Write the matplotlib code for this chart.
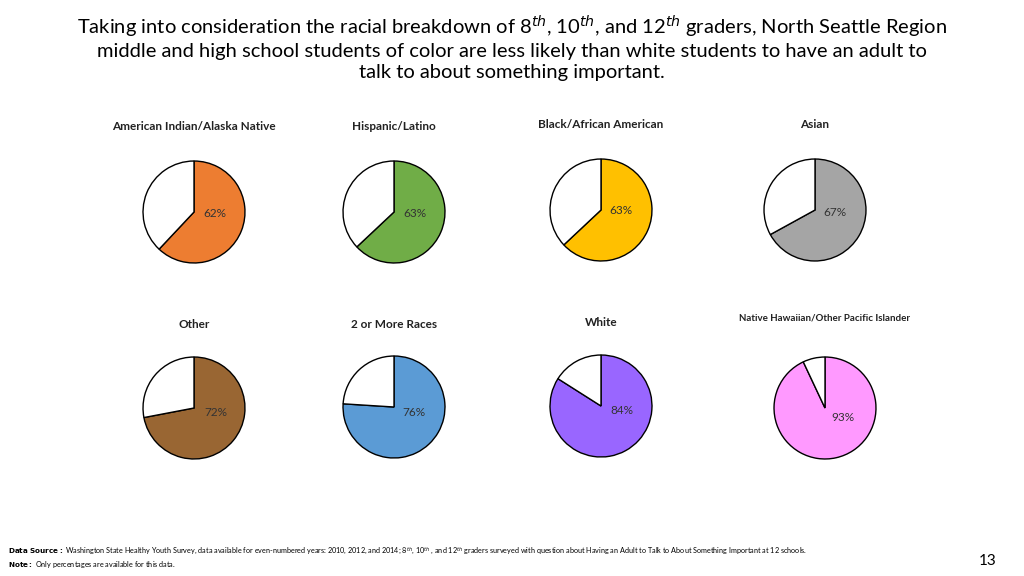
import matplotlib
matplotlib.use("Agg")
import matplotlib.pyplot as plt

groups = ["American Indian/Alaska Native", "Hispanic/Latino", "Black/African American", "Asian",
          "Other", "2 or More Races", "White", "Native Hawaiian/Other Pacific Islander"]
values = [62, 63, 63, 67, 72, 76, 84, 93]
colors = ["#ED7D31", "#70AD47", "#FFC000", "#A5A5A5", "#996633", "#5B9BD5", "#9966FF", "#FF99FF"]

centers = [(194, 212), (394, 212), (601, 210), (815, 210),
           (194, 408), (394, 407), (601, 406), (825, 408)]
title_y = [127, 127, 125, 125, 325, 324, 323, 318]
label_off = [(0.4, -0.02), (0.42, -0.02), (0.4, 0), (0.4, -0.04),
             (0.42, -0.08), (0.4, -0.1), (0.4, -0.08), (0.35, -0.19)]

W, H = 1024, 576
plt.rcParams["font.family"] = "Lato"
fig = plt.figure(figsize=(W / 100, H / 100), dpi=100)
r = 52
for i, (g, v, c) in enumerate(zip(groups, values, colors)):
    cx, cy = centers[i]
    ax = fig.add_axes([(cx - r) / W, 1 - (cy + r) / H, 2 * r / W, 2 * r / H])
    ax.pie([v, 100 - v], colors=[c, "white"], startangle=90, counterclock=False,
           wedgeprops=dict(edgecolor="black", linewidth=1))
    ax.set_xlim(-1.02, 1.02); ax.set_ylim(-1.02, 1.02)
    ax.set_aspect("equal")
    dx, dy = label_off[i]
    ax.text(dx, dy, f"{v}%", ha="center", va="center", fontsize=8.5, color="#333333")
    fs = 7 if i == 7 else 8.5
    fig.text(cx / W, 1 - title_y[i] / H, g, ha="center", va="center",
             fontsize=fs, fontweight="bold", color="#222222")

fig.text(0.5, 1 - 47 / H,
         "Taking into consideration the racial breakdown of 8$^{th}$, 10$^{th}$, and 12$^{th}$ graders, North Seattle Region\n"
         "middle and high school students of color are less likely than white students to have an adult to\n"
         "talk to about something important.",
         ha="center", va="center", fontsize=14.5, linespacing=1.25)

fig.text(8 / W, 1 - 551 / H,
         r"$\bf{Data\ Source:}$ Washington State Healthy Youth Survey, data available for even-numbered years: 2010, 2012, and 2014; 8$^{th}$, 10$^{th}$ , and 12$^{th}$ graders surveyed with question about Having an Adult to Talk to About Something Important at 12 schools.",
         fontsize=5.2, va="center")
fig.text(8 / W, 1 - 565 / H, r"$\bf{Note:}$ Only percentages are available for this data.",
         fontsize=5.2, va="center")
fig.text(988 / W, 1 - 561 / H, "13", fontsize=11, ha="center", va="center")

fig.savefig("out.png", dpi=100)
